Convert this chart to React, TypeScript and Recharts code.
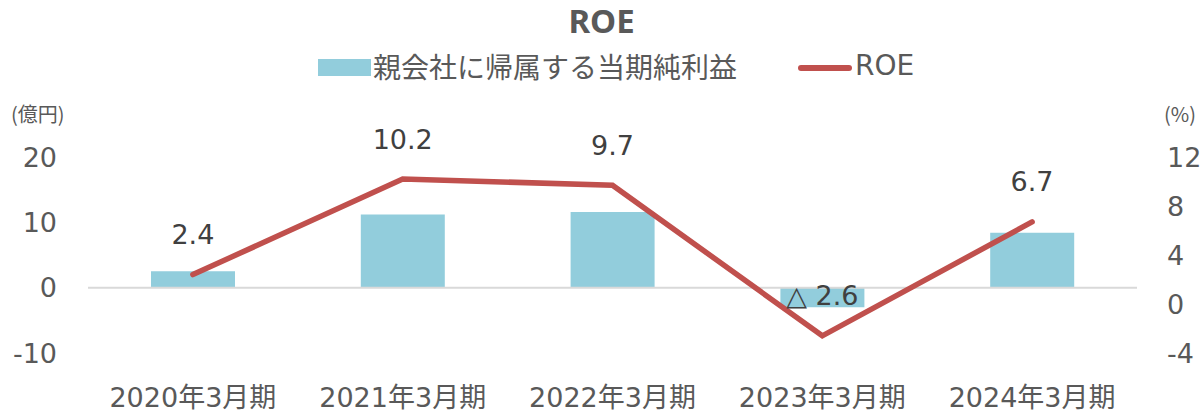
import React from 'react';
import { ComposedChart, Bar, Line, XAxis, YAxis, ReferenceLine, Legend, LabelList } from 'recharts';

const categories = ['2020年3月期', '2021年3月期', '2022年3月期', '2023年3月期', '2024年3月期'];
const netIncome = [2.5, 11.2, 11.6, -3.0, 8.4];
const roe = [2.4, 10.2, 9.7, -2.6, 6.7];
const leftTicks = [-10, 0, 10, 20];
const rightTicks = [-4, 0, 4, 8, 12];
const barName = '親会社に帰属する当期純利益';
const lineName = 'ROE';
const title = 'ROE';
const leftUnit = '(億円)';
const rightUnit = '(%)';

const data = categories.map((c, i) => ({ category: c, netIncome: netIncome[i], roe: roe[i] }));

const FONT = '"DejaVu Sans", "Noto Sans CJK JP", sans-serif';
const TICK = '#595959';
const BAR = '#92cddc';
const LINE = '#c0504d';
const LEGEND_H = 40;

const renderRoeLabel = (props: any) => {
  const { x, y, value } = props;
  const v = Number(value);
  const txt = v < 0 ? `△ ${Math.abs(v).toFixed(1)}` : v.toFixed(1);
  return (
    <text x={x} y={y - 40} textAnchor="middle" dominantBaseline="central" fontSize={27} fill="#404040" fontFamily={FONT}>
      {txt}
    </text>
  );
};

const renderLegend = () => (
  <div style={{ position: 'relative', height: LEGEND_H, fontFamily: '"Noto Sans CJK JP", sans-serif', color: TICK }}>
    <div style={{ position: 'absolute', left: 318, top: 9, width: 53, height: 17, background: BAR }} />
    <div style={{ position: 'absolute', left: 373, top: -4, fontSize: 28, lineHeight: '40px', whiteSpace: 'nowrap' }}>{barName}</div>
    <div style={{ position: 'absolute', left: 798, top: 15, width: 54, height: 6, borderRadius: 3, background: LINE }} />
    <div style={{ position: 'absolute', left: 855, top: -4, fontSize: 28, lineHeight: '40px', fontFamily: FONT }}>{lineName}</div>
  </div>
);

export default function App() {
  return (
    <div style={{ position: 'absolute', left: 0, top: 0, width: 1203, height: 413, background: '#fff' }}>
      <div style={{ position: 'absolute', left: 0, top: 1, width: 1203, textAlign: 'center', fontFamily: '"Noto Sans", sans-serif', fontWeight: 700, fontSize: 33, color: TICK, lineHeight: '40px' }}>
        {title}
      </div>
      <div style={{ position: 'absolute', left: 11, top: 99, fontFamily: '"Noto Sans CJK JP", sans-serif', fontSize: 20, color: TICK }}>{leftUnit}</div>
      <div style={{ position: 'absolute', left: 1164, top: 99, fontFamily: '"Noto Sans CJK JP", sans-serif', fontSize: 20, color: TICK }}>{rightUnit}</div>
      <ComposedChart width={1203} height={413} data={data} margin={{ top: 157 - LEGEND_H, right: 0, bottom: 0, left: 0 }}>
        <Legend verticalAlign="top" height={LEGEND_H} content={renderLegend} wrapperStyle={{ position: 'absolute', top: 50, left: 0, width: 1203 }} />
        <XAxis dataKey="category" axisLine={false} tickLine={false} tickSize={0} tickMargin={35} height={60}
          tick={{ fontSize: 27, fill: TICK, fontFamily: FONT }} interval={0} />
        <YAxis yAxisId="left" orientation="left" domain={[-10, 20]} ticks={leftTicks} width={88}
          axisLine={false} tickLine={false} tickSize={0} tickMargin={31}
          tick={{ fontSize: 27, fill: TICK, fontFamily: FONT }} />
        <YAxis yAxisId="right" orientation="right" domain={[-4, 12]} ticks={rightTicks} width={66}
          axisLine={false} tickLine={false} tickSize={0} tickMargin={30}
          tick={{ fontSize: 27, fill: TICK, fontFamily: FONT, textAnchor: 'start' }} />
        <ReferenceLine yAxisId="left" y={0} stroke="#d9d9d9" strokeWidth={2} />
        <Bar yAxisId="left" dataKey="netIncome" name={barName} fill={BAR} barSize={84} isAnimationActive={false} />
        <Line yAxisId="right" dataKey="roe" name={lineName} stroke={LINE} strokeWidth={5.5} strokeLinecap="round"
          dot={false} activeDot={false} type="linear" isAnimationActive={false}>
          <LabelList dataKey="roe" content={renderRoeLabel} />
        </Line>
      </ComposedChart>
    </div>
  );
}
